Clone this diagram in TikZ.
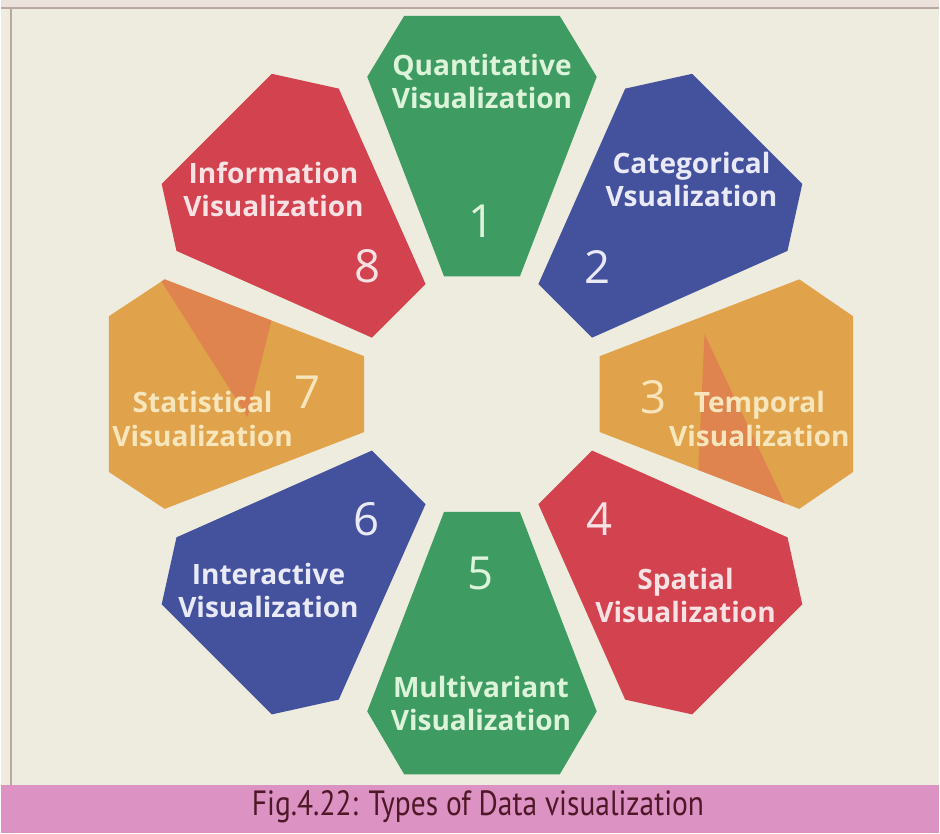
\documentclass[tikz,border=0pt]{standalone}
\usepackage{fontspec}
\usepackage{tikz}
\setmainfont{Open Sans}
\newfontfamily\capfont[FakeStretch=0.84]{PT Sans}
\definecolor{PaperCream}{HTML}{EEECDE}
\definecolor{PaperTop}{HTML}{ECE2DC}
\definecolor{FrameRose}{HTML}{B9A7A2}
\definecolor{BandPink}{HTML}{DC92C2}
\definecolor{InkMaroon}{HTML}{4E1828}
\definecolor{PetalGreen}{HTML}{3E9C62}
\definecolor{PetalBlue}{HTML}{44529E}
\definecolor{PetalRed}{HTML}{D2434F}
\definecolor{PetalOrange}{HTML}{E0A24A}
\definecolor{PetalFlame}{HTML}{E07852}
\definecolor{TxtGreen}{HTML}{DDF4DA}
\definecolor{TxtBlue}{HTML}{EAE9F6}
\definecolor{TxtRed}{HTML}{F8E2E4}
\definecolor{TxtOrange}{HTML}{F7E6BC}

\begin{document}
\begin{tikzpicture}[x=0.02cm, y=0.02cm,
    every node/.style={inner sep=0pt, align=center},
    lbl/.style={font=\fontsize{16}{19}\selectfont\bfseries},
    num/.style={font=\fontsize{26}{28}\selectfont}]
  \def\ri{118}  % inner edge
  \def\wi{38}
  \def\rm{318}  % widest point
  \def\wm{115}
  \def\wo{78}   % outer edge, half width
  % Paper and frame
  \fill[PaperCream] (0,0) rectangle (940,835);
  \fill[PaperTop] (0,827) rectangle (940,835);
  \draw[FrameRose,line width=1.2pt] (0,827) -- (940,827);
  \draw[FrameRose,line width=1.2pt] (10,827) -- (10,48);
  % Eight petals round the centre (angle / colour / outer edge)
  \foreach \a/\c/\ro in {90/PetalGreen/379,45/PetalBlue/376,0/PetalOrange/372,-45/PetalRed/376,
                         -90/PetalGreen/381,-135/PetalBlue/376,180/PetalOrange/374,135/PetalRed/376} {
    \fill[\c,shift={(482,440)},rotate=\a]
      (\ri,-\wi) -- (\ri,\wi) -- (\rm,\wm) -- (\ro,\wo) -- (\ro,-\wo) -- (\rm,-\wm) -- cycle;
  }
  % Flame streaks on the orange petals
  \begin{scope}
    \clip[shift={(482,440)}]
      (\ri,-\wi) -- (\ri,\wi) -- (\rm,\wm) -- (372,\wo) -- (372,-\wo) -- (\rm,-\wm) -- cycle;
    \fill[PetalFlame,opacity=0.7] (705,500) -- (696,300) -- (800,300) -- cycle;
  \end{scope}
  \begin{scope}
    \clip[shift={(482,440)},rotate=180]
      (\ri,-\wi) -- (\ri,\wi) -- (\rm,\wm) -- (374,\wo) -- (374,-\wo) -- (\rm,-\wm) -- cycle;
    \fill[PetalFlame,opacity=0.7] (150,570) -- (275,530) -- (247,417) -- cycle;
  \end{scope}
  % Labels
  \node[lbl,TxtGreen] (t1) at (482,753) {Quantitative\\Visualization};
  \node[num,TxtGreen] (n1) at (482,613) {1};
  \node[lbl,TxtBlue] (t2) at (692,655) {Categorical\\Vsualization};
  \node[num,TxtBlue] (n2) at (598,567) {2};
  \node[lbl,TxtOrange] (t3) at (760,415) {Temporal\\Visualization};
  \node[num,TxtOrange] (n3) at (654,437) {3};
  \node[lbl,TxtRed] (t4) at (686,238) {Spatial\\Visualization};
  \node[num,TxtRed] (n4) at (600,315) {4};
  \node[lbl,TxtGreen] (t5) at (481,130) {Multivariant\\Visualization};
  \node[num,TxtGreen] (n5) at (481,260) {5};
  \node[lbl,TxtBlue] (t6) at (268,243) {Interactive\\Visualization};
  \node[num,TxtBlue] (n6) at (366,315) {6};
  \node[lbl,TxtOrange] (t7) at (202,415) {Statistical\\Visualization};
  \node[num,TxtOrange] (n7) at (307,442) {7};
  \node[lbl,TxtRed] (t8) at (273,645) {Information\\Visualization};
  \node[num,TxtRed] (n8) at (367,568) {8};
  % Caption band
  \fill[BandPink] (0,0) rectangle (940,48);
  \node[font=\capfont\fontsize{20}{22}\selectfont,color=InkMaroon] (cap) at (478,26)
    {Fig.4.22: Types of Data visualization};
\end{tikzpicture}
\end{document}
